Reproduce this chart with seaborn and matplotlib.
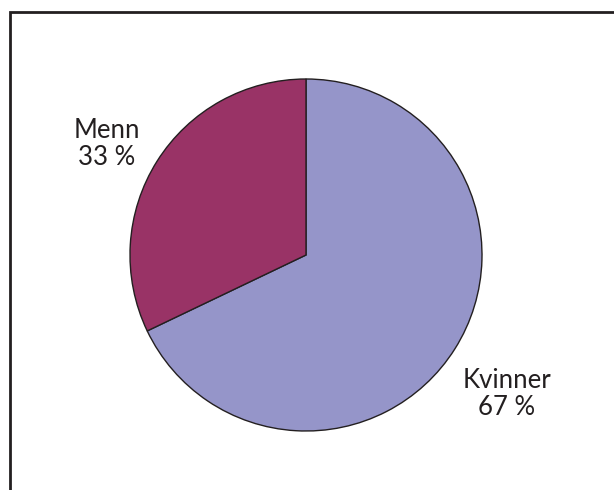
import matplotlib
matplotlib.use("Agg")
import matplotlib.pyplot as plt
import seaborn as sns
from matplotlib.patches import Rectangle

sns.set_style("white")
plt.rcParams['font.family'] = ['Lato', 'DejaVu Sans']

categories = ["Kvinner", "Menn"]
values = [67.9, 32.1]
labels = ["Kvinner\n67 %", "Menn\n33 %"]
colors = ["#9595C9", "#993366"]

W, H = 614, 490
fig = plt.figure(figsize=(W / 100, H / 100), dpi=100)
fig.patch.set_facecolor("white")

# frame (cut off at right and bottom)
fig.patches.append(Rectangle((10 / W, -0.05), 1.1, (490 - 12) / H + 0.05,
                             transform=fig.transFigure, fill=False,
                             edgecolor="#231F20", linewidth=2.0, zorder=0))

cx, cy, r = 306, 255, 176
ax = fig.add_axes([(cx - r) / W, (H - cy - r) / H, 2 * r / W, 2 * r / H])
ax.pie(values, colors=colors, startangle=90, counterclock=False, radius=1,
       wedgeprops=dict(edgecolor="#231F20", linewidth=1.0))
ax.set_xlim(-1, 1)
ax.set_ylim(-1, 1)
ax.set_aspect("equal")
ax.axis("off")

label_pos = {"Menn": (-1.13, 0.63), "Kvinner": (1.14, -0.79)}
for cat, lab in zip(categories, labels):
    x, y = label_pos[cat]
    ax.text(x, y, lab, ha="center", va="center", fontsize=18.5,
            color="#231F20", linespacing=1.12, clip_on=False)

fig.savefig("out.png", dpi=100)
